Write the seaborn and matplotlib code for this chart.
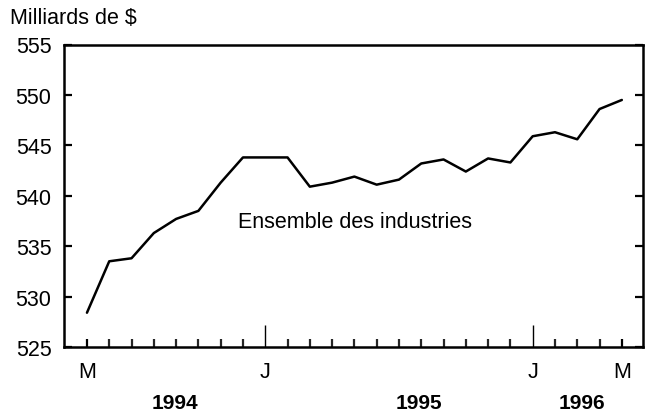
import matplotlib
matplotlib.use("Agg")
import matplotlib.pyplot as plt
import matplotlib.transforms as mtransforms
import seaborn as sns
import pandas as pd
import numpy as np

# Data: monthly values, May 1994 to May 1996 (billions of $)
values = [528.4, 533.5, 533.8, 536.3, 537.7, 538.5, 541.3, 543.8, 543.8, 543.8,
          540.9, 541.3, 541.9, 541.1, 541.6, 543.2, 543.6, 542.4, 543.7, 543.3,
          545.9, 546.3, 545.6, 548.6, 549.5]
month_index = list(range(len(values)))
month_labels = ["M", "J", "J", "M"]
month_label_pos = [0, 8, 20, 24]
years = ["1994", "1995", "1996"]
year_pos = [3.95, 14.9, 22.2]
y_ticks = [525, 530, 535, 540, 545, 550, 555]
series_label = "Ensemble des industries"
y_title = "Milliards de $"

sns.set_style("ticks")
plt.rcParams["font.family"] = ["Liberation Sans", "DejaVu Sans"]

df = pd.DataFrame({"m": month_index, "v": values})

fig = plt.figure(figsize=(6.47, 4.14), dpi=100)
ax = fig.add_axes([64 / 647, 1 - 348 / 414, (643 - 64) / 647, (348 - 45.5) / 414])

sns.lineplot(data=df, x="m", y="v", ax=ax, color="black", linewidth=1.8)

ax.set_xlim(-1.03, 24.95)
ax.set_ylim(525, 555)
ax.set_xlabel("")
ax.set_ylabel("")

for s in ax.spines.values():
    s.set_visible(True)
    s.set_linewidth(1.8)
    s.set_color("black")

# y ticks
ax.set_yticks(y_ticks)
ax.tick_params(axis="y", which="major", direction="in", length=6, width=1.6,
               left=True, right=True, labelleft=True, labelright=False,
               labelsize=15.5, pad=9, colors="black")

# x ticks
ax.set_xticks(month_label_pos)
ax.set_xticklabels(month_labels)
ax.set_xticks(month_index, minor=True)
ax.tick_params(axis="x", which="minor", direction="in", length=6, width=1.6,
               bottom=True, top=False)
ax.tick_params(axis="x", which="major", direction="in", length=16, width=1.0,
               bottom=True, top=False, labelsize=15.5, pad=10, colors="black")
maj = ax.xaxis.get_major_ticks()
for i in (0, 3):
    maj[i].tick1line.set_markersize(6)
    maj[i].tick1line.set_markeredgewidth(1.6)

# year labels
trans = mtransforms.blended_transform_factory(ax.transData, fig.transFigure)
for yr, p in zip(years, year_pos):
    ax.text(p, 1 - 404 / 414, yr, transform=trans, ha="center", va="center",
            fontsize=15, fontweight="bold", color="black")

ax.text(6.76, 537.4, series_label, ha="left", va="center", fontsize=15.5, color="black")

fig.text(10 / 647, 1 - 19 / 414, y_title, ha="left", va="center", fontsize=15.5, color="black")

fig.savefig("out.png", dpi=100)
